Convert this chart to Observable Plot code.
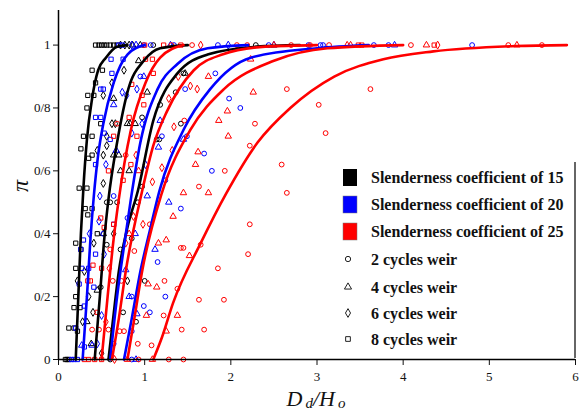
<!DOCTYPE html>
<html><head><meta charset="utf-8">
<script src="https://cdn.jsdelivr.net/npm/d3@7"></script>
<script src="https://cdn.jsdelivr.net/npm/@observablehq/plot@0.6"></script>
<style>
body{margin:0;background:#fff;}
#wrap{position:relative;width:580px;height:412px;overflow:hidden;}
#wrap svg{position:absolute;left:0;top:0;}
</style></head><body><div id="wrap"></div>
<script>
// ---------- categories / ticks ----------
const slenderness = [15, 20, 25];
const slenderColors = ["#000000", "#0000ff", "#ff0000"];
const cycles = [2, 4, 6, 8];
const cycleSymbols = ["circle", "triangle", "diamond", "square"];
const slenderLabels = ["Slenderness coefficient of 15", "Slenderness coefficient of 20", "Slenderness coefficient of 25"];
const cycleLabels = ["2 cycles weir", "4 cycles weir", "6 cycles weir", "8 cycles weir"];
const xTicks = [0, 1, 2, 3, 4, 5, 6];
const xTickLabels = ["0", "1", "2", "3", "4", "5", "6"];
const yTicks = [0, 0.2, 0.4, 0.6, 0.8, 1];
const yTickLabels = ["0", "0/2", "0/4", "0/6", "0/8", "1"];

// ---------- observed points [Dd/Ho, pi] ----------
const s15_c8 = [[0.43,1],[0.47,1],[0.50,1],[0.53,1],[0.56,1],[0.60,1],[0.64,1],[0.68,1],[0.39,0.92],[0.51,0.92],[0.43,0.88],[0.34,0.84],[0.41,0.84],[0.33,0.80],[0.49,0.75],[0.29,0.71],[0.39,0.71],[0.26,0.67],[0.39,0.65],[0.35,0.64],[0.24,0.545],[0.33,0.545],[0.31,0.48],[0.39,0.48],[0.34,0.46],[0.45,0.40],[0.20,0.37],[0.26,0.35],[0.20,0.29],[0.20,0.20],[0.18,0.165],[0.25,0.165],[0.18,0.10],[0.22,0.09],[0.12,0.10],[0.08,0],[0.10,0],[0.12,0]];
const s15_c6 = [[0.52,0.84],[0.62,0.88],[0.76,0.92],[0.56,0.71],[0.56,0.68],[0.45,0.665],[0.52,0.65],[0.52,0.56],[0.62,0.75],[0.66,0.75],[0.41,0.37],[0.64,0.40],[0.80,0.25],[0.22,0.25],[0.30,0.28],[0.35,0.20],[0.28,0.12],[0.40,0.15],[0.77,1],[0.72,1],[0.82,1],[0.50,0.02]];
const s15_c4 = [[0.93,0.95],[0.64,0.83],[1.03,0.85],[1.47,0.91],[0.80,0.75],[0.83,0.75],[0.89,0.75],[0.64,0.65],[0.70,0.65],[0.72,0.60],[0.82,0.60],[0.52,0.40],[0.45,0.22],[0.33,0.12],[0.38,0.05],[0.86,1],[0.95,1]];
const s15_c2 = [[1.45,0.91],[1.18,0.81],[1.36,0.85],[0.97,0.77],[1.42,0.75],[1.14,0.70],[1.17,0.70],[0.97,0.55],[0.56,0.50],[0.60,0.50],[0.68,0.50],[0.92,0.50],[0.85,0.385],[0.56,0.365],[0.72,0.35],[1.00,0.25],[0.49,0.23],[0.90,0.12],[0.75,0.15],[2.29,1],[1.10,1],[0.60,0]];

const s20_c8 = [[0.61,0.955],[0.75,0.955],[0.62,0.91],[0.49,0.86],[0.52,0.86],[0.43,0.77],[0.49,0.77],[0.53,0.72],[0.60,0.70],[0.43,0.62],[0.29,0.38],[0.26,0.35],[0.43,0.335],[0.27,0.29],[0.35,0.29],[0.24,0.24],[0.41,0.23],[0.30,0.17],[0.20,0.10],[0.15,0],[0.18,0],[0.22,0],[0.70,1],[0.74,1],[0.64,0.43],[0.30,0.04]];
const s20_c6 = [[0.74,0.85],[0.79,0.84],[0.91,0.86],[0.85,0.72],[0.97,0.75],[0.55,0.62],[1.01,0.62],[0.48,0.52],[0.47,0.44],[0.53,0.335],[0.36,0.40],[0.50,0.14],[0.85,1],[0.90,1],[1.97,1],[0.45,0.05]];
const s20_c4 = [[0.99,0.90],[0.64,0.81],[1.18,0.76],[1.16,0.675],[1.45,0.70],[0.67,0.665],[1.03,0.52],[1.28,0.50],[0.89,0.40],[1.12,0.35],[0.78,0.285],[0.82,0.20],[0.91,0.145],[0.27,0.045],[0.39,0.045],[0.90,0],[2.50,1],[3.90,1],[1.30,1]];
const s20_c2 = [[0.95,0.90],[1.47,0.86],[1.82,0.91],[1.98,0.83],[2.11,0.80],[1.20,0.71],[1.49,0.71],[1.69,0.655],[1.78,0.60],[1.24,0.57],[0.64,0.52],[1.42,0.48],[0.80,0.45],[1.15,0.31],[1.24,0.20],[0.99,0.17],[1.06,0.15],[0.85,0.09],[0.64,0.05],[0.85,0],[0.52,0.40],[0.85,0.20],[0.99,1],[1.07,1],[1.34,1],[1.85,1],[2.44,1],[2.90,1],[3.04,1],[3.07,1],[3.66,1],[3.83,1],[4.80,1]];

const s25_c8 = [[1.01,0.955],[1.09,0.955],[0.85,0.875],[1.10,0.91],[0.97,0.84],[0.99,0.81],[0.82,0.77],[0.64,0.71],[0.91,0.71],[0.84,0.62],[0.58,0.60],[0.75,0.57],[0.49,0.45],[0.53,0.42],[0.64,0.43],[0.40,0.30],[0.50,0.29],[0.34,0.25],[0.37,0.25],[0.45,0.15],[0.30,0],[0.35,0],[0.42,0],[0.50,0],[1.00,1],[1.22,1],[1.42,1],[3.48,1],[3.52,1],[4.36,1]];
const s25_c6 = [[1.39,0.90],[1.53,0.87],[1.61,0.86],[1.28,0.83],[1.34,0.74],[0.90,0.65],[1.32,0.665],[1.20,0.61],[1.09,0.565],[0.87,0.455],[0.98,0.43],[0.78,0.37],[0.59,0.29],[0.55,0.12],[0.65,0],[1.65,1],[4.40,1]];
const s25_c4 = [[1.74,0.90],[2.23,0.955],[2.26,0.85],[1.96,0.79],[1.86,0.76],[1.97,0.71],[1.62,0.66],[1.59,0.62],[0.93,0.60],[1.45,0.53],[1.74,0.53],[1.33,0.455],[0.82,0.40],[1.16,0.37],[1.25,0.38],[1.52,0.33],[1.04,0.24],[1.14,0.23],[1.02,0.14],[1.38,0.14],[1.25,0.09],[0.80,0],[1.09,0],[2.50,1],[3.35,1],[3.39,1],[4.27,1],[5.32,1]];
const s25_c2 = [[2.65,0.86],[3.02,0.81],[3.62,0.86],[3.10,0.72],[2.28,0.75],[2.22,0.68],[2.59,0.62],[2.65,0.53],[1.46,0.76],[0.68,0.75],[0.78,0.65],[1.93,0.60],[1.63,0.55],[1.06,0.43],[2.22,0.43],[1.42,0.355],[1.45,0.355],[1.65,0.365],[0.60,0.35],[0.88,0.345],[2.20,0.335],[1.85,0.29],[0.63,0.25],[0.73,0.25],[1.23,0.25],[1.38,0.225],[1.63,0.19],[1.92,0.19],[1.22,0.14],[0.39,0.095],[0.47,0.095],[0.58,0.095],[0.71,0.09],[0.76,0.09],[1.43,0.095],[1.69,0.095],[0.92,0.05],[1.08,0.045],[0.93,0],[1.28,0],[1.45,0],[1.55,1],[2.07,1],[2.19,1],[2.70,1],[2.92,1],[3.14,1],[4.09,1],[5.22,1],[5.61,1],[1.31,1]];

// ---------- fitted curves ----------
const curveK1 = [[0.20,0],[0.23,0.2],[0.26,0.4],[0.29,0.55],[0.33,0.7],[0.39,0.83],[0.46,0.92],[0.55,0.96],[0.68,0.995],[0.80,1]];
const curveK2 = [[0.42,0],[0.48,0.2],[0.53,0.38],[0.58,0.51],[0.68,0.69],[0.81,0.86],[0.99,0.95],[1.18,0.99],[1.5,1]];
const curveK3 = [[0.58,0],[0.63,0.12],[0.70,0.28],[0.80,0.42],[0.92,0.535],[1.1,0.76],[1.38,0.91],[1.73,0.97],[2.3,0.995],[2.8,1]];
const curveB1 = [[0.28,0],[0.33,0.2],[0.37,0.38],[0.41,0.52],[0.46,0.65],[0.52,0.75],[0.64,0.88],[0.80,0.97],[1.0,1]];
const curveB2 = [[0.60,0],[0.68,0.2],[0.76,0.36],[0.84,0.51],[0.95,0.69],[1.15,0.86],[1.38,0.94],[1.73,0.99],[2.2,1]];
const curveB3 = [[0.76,0],[0.85,0.13],[0.95,0.28],[1.06,0.41],[1.17,0.535],[1.45,0.73],[1.76,0.86],[2.23,0.96],[3.0,0.99],[3.6,1]];
const curveR1 = [[0.50,0],[0.57,0.2],[0.63,0.36],[0.70,0.51],[0.84,0.73],[1.01,0.88],[1.18,0.96],[1.45,1]];
const curveR2 = [[0.62,0],[0.70,0.13],[0.78,0.28],[0.97,0.535],[1.1,0.68],[1.26,0.79],[1.57,0.92],[1.9,0.97],[2.4,0.995],[3.0,1]];
const curveR3 = [[0.80,0],[0.88,0.13],[0.97,0.28],[1.2,0.53],[1.53,0.73],[1.92,0.86],[2.5,0.95],[3.12,0.99],[4.0,1]];
const curveR4 = [[1.10,0],[1.2,0.07],[1.33,0.18],[1.65,0.37],[1.95,0.53],[2.31,0.69],[2.69,0.80],[3.2,0.9],[3.77,0.955],[4.35,0.98],[5.3,0.997],[5.9,1]];

// ---------- build tables ----------
const groups = [
  [15,2,s15_c2],[15,4,s15_c4],[15,6,s15_c6],[15,8,s15_c8],
  [20,2,s20_c2],[20,4,s20_c4],[20,6,s20_c6],[20,8,s20_c8],
  [25,2,s25_c2],[25,4,s25_c4],[25,6,s25_c6],[25,8,s25_c8]
];
const points = groups.flatMap(([s,c,arr]) => arr.map(([x,y]) => ({x,y,s,c})));
const curveSets = [
  ["K1",15,curveK1],["K2",15,curveK2],["K3",15,curveK3],
  ["B1",20,curveB1],["B2",20,curveB2],["B3",20,curveB3],
  ["R1",25,curveR1],["R2",25,curveR2],["R3",25,curveR3],["R4",25,curveR4]
];
const curveRows = curveSets.flatMap(([id,s,arr]) => arr.map(([x,y]) => ({x,y,s,id})));

const serif = "Liberation Serif, Times New Roman, serif";

const chart = Plot.plot({
  width: 580, height: 412,
  marginLeft: 58, marginRight: 5, marginTop: 10, marginBottom: 53,
  x: {domain: [0, 6]},
  y: {domain: [0, 1.11]},
  color: {domain: slenderness, range: slenderColors},
  symbol: {domain: cycles, range: cycleSymbols},
  style: {fontFamily: serif, fontSize: "13px", color: "#111", background: "white"},
  marks: [
    Plot.axisX({ticks: xTicks, tickSize: 6, tickPadding: 6, label: null, fontSize: 13, fontFamily: serif,
      tickFormat: d => xTickLabels[xTicks.indexOf(d)]}),
    Plot.axisY({ticks: yTicks, tickSize: 5, tickPadding: 3, label: null, fontSize: 13, fontFamily: serif,
      tickFormat: d => yTickLabels[yTicks.indexOf(d)]}),
    Plot.dot(points, {x: "x", y: "y", stroke: "s", symbol: "c", r: 2.4, strokeWidth: 1, fill: "none"}),
    Plot.line(curveRows, {x: "x", y: "y", z: "id", stroke: "s", strokeWidth: 2.6, curve: "monotone-x"}),
    Plot.ruleX([0], {stroke: "#000", strokeWidth: 1.5}),
    Plot.ruleY([0], {stroke: "#000", strokeWidth: 1.5})
  ]
});
const wrap = document.getElementById("wrap");
wrap.appendChild(chart);

// ---------- overlay: axis titles + legend ----------
const ov = d3.select(wrap).append("svg").attr("width", 580).attr("height", 412)
  .style("pointer-events", "none");

// x title
const xt = ov.append("text").attr("x", 316).attr("y", 406).attr("text-anchor", "middle")
  .attr("font-family", serif).attr("font-style", "italic").attr("font-size", 22).attr("fill", "#111");
xt.append("tspan").text("D");
xt.append("tspan").attr("font-size", 15).attr("dy", 2).attr("dx", 3).text("d");
xt.append("tspan").attr("dy", -2).text("/H");
xt.append("tspan").attr("font-size", 15).attr("dy", 2).attr("dx", 3).text("o");

// y title
ov.append("text").attr("transform", "translate(28,186) rotate(-90)").attr("text-anchor", "middle")
  .attr("font-family", serif).attr("font-style", "italic").attr("font-size", 24).attr("fill", "#111").text("π");

// legend box
const lg = ov.append("g");
lg.append("rect").attr("x", 336).attr("y", 162).attr("width", 238).attr("height", 195).attr("fill", "#fff");
lg.append("line").attr("x1", 575).attr("x2", 575).attr("y1", 162).attr("y2", 358).attr("stroke", "#333").attr("stroke-width", 1.5);

const rowsA = [177, 204, 231];
slenderLabels.forEach((t, i) => {
  lg.append("rect").attr("x", 343).attr("y", rowsA[i] - 8).attr("width", 14).attr("height", 17)
    .attr("fill", slenderColors[i]).attr("stroke", i === 0 ? "none" : "#777").attr("stroke-width", 0.5);
  lg.append("text").attr("x", 371).attr("y", rowsA[i] + 6).attr("font-family", serif).attr("font-weight", "bold")
    .attr("font-size", 16).attr("fill", "#111").text(t);
});
const rowsB = [259, 287, 313, 339];
const symMap = {circle: d3.symbolCircle, triangle: d3.symbolTriangle, diamond: d3.symbolDiamond, square: d3.symbolSquare};
cycleLabels.forEach((t, i) => {
  lg.append("path").attr("transform", `translate(348,${rowsB[i]})`)
    .attr("d", d3.symbol(symMap[cycleSymbols[i]], 22)())
    .attr("fill", "none").attr("stroke", "#222").attr("stroke-width", 1);
  lg.append("text").attr("x", 371).attr("y", rowsB[i] + 6).attr("font-family", serif).attr("font-weight", "bold")
    .attr("font-size", 16).attr("fill", "#111").text(t);
});
</script>
</body></html>
